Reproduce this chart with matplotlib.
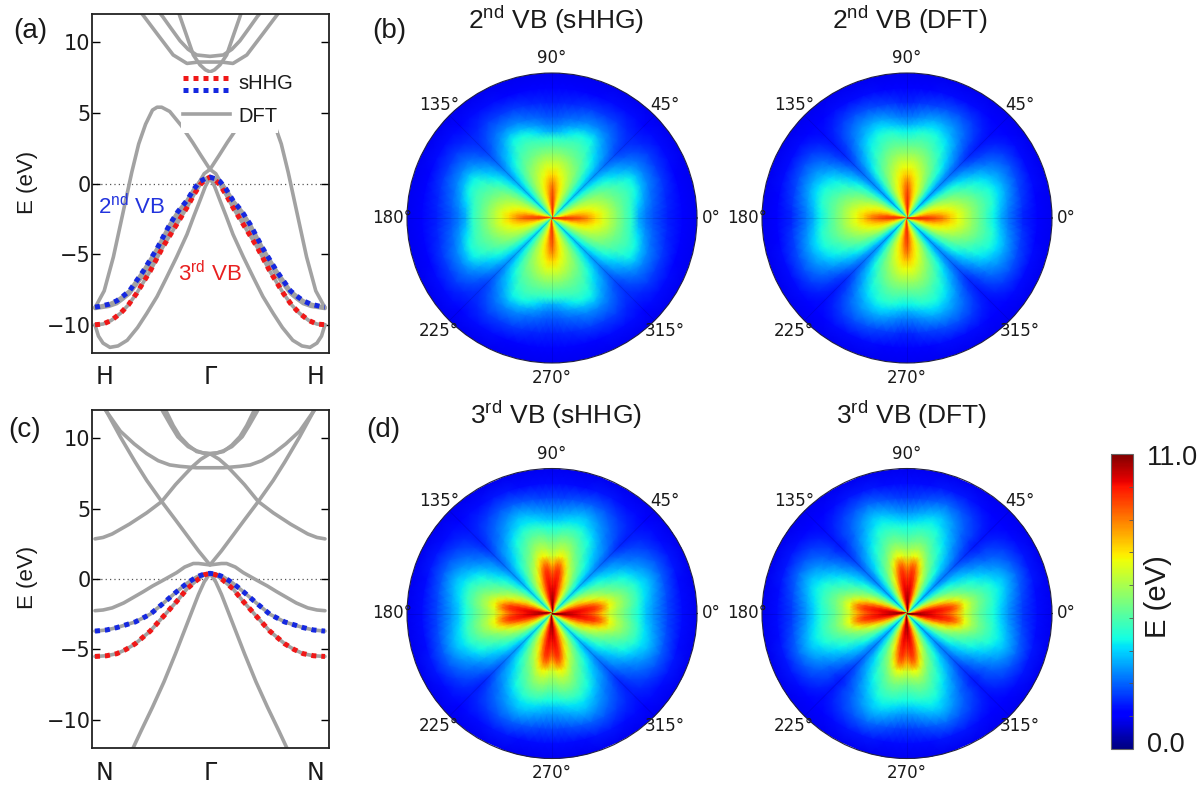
import numpy as np
import matplotlib
matplotlib.use("Agg")
import matplotlib.pyplot as plt
from matplotlib.cm import ScalarMappable
from matplotlib.colors import Normalize
from matplotlib.patches import Rectangle

plt.rcParams["font.family"] = "Liberation Sans"
plt.rcParams["mathtext.fontset"] = "custom"
plt.rcParams["mathtext.rm"] = "Liberation Sans"
plt.rcParams["axes.unicode_minus"] = True

W, H = 1203, 786

# ---- band data, half path from Gamma (k=0) to zone edge (k=1), mirrored later ----
# panel (a) Gamma -> H
a_low_k = [0, .04, .087, .14, .2, .29, .38, .46, .55, .63, .72, .8, .87, .93, .97, 1]
a_low_e = [.4, -.2, -1.2, -2.3, -3.6, -5.2, -6.7, -8.0, -9.2, -10.2, -11.1, -11.5, -11.6, -11.3, -10.8, -10.0]
a_vb3_k = [0, .04, .087, .14, .2, .29, .41, .52, .64, .71, .78, .86, .93, 1]
a_vb3_e = [.45, .3, -.1, -.8, -1.7, -2.9, -4.5, -6.2, -7.8, -8.6, -9.2, -9.7, -9.95, -10.0]
a_vb2_k = [0, .04, .087, .14, .2, .28, .35, .46, .58, .7, .76, .81, .88, .96, 1]
a_vb2_e = [.45, .35, .15, -.4, -1.2, -2.0, -2.9, -4.6, -6.2, -7.6, -8.0, -8.3, -8.55, -8.7, -8.75]
a_arc_k = [0, .05, .1, .15, .2, .28, .35, .46, .58, .7, .76, .81, .88, .96, 1]
a_arc_e = [1.0, .7, 0, -.8, -1.5, -2.4, -3.2, -4.9, -6.5, -7.8, -8.2, -8.5, -8.7, -8.8, -8.85]
a_top_k = [0, .08, .15, .25, .35, .42, .46, .5, .56, .62, .68, .76, .84, .92, 1]
a_top_e = [1.0, 2.0, 2.9, 4.1, 5.1, 5.4, 5.4, 5.2, 4.2, 2.8, .8, -2.2, -5.2, -7.6, -8.8]
a_c1_k = [0, .04, .087, .145, .2, .26, .28]
a_c1_e = [7.9, 8.05, 8.4, 9.1, 10.4, 11.8, 12.3]
a_c2_k = [0, .1, .2, .32, .46, .58, .62]
a_c2_e = [8.6, 8.6, 8.5, 9.1, 10.6, 11.9, 12.3]
a_c3_k = [0, .116, .19, .26, .34, .41, .45]
a_c3_e = [9.0, 9.1, 9.5, 10.1, 11.0, 11.8, 12.2]

# panel (c) Gamma -> N
c_low_k = [0, .05, .1, .2, .3, .4, .5, .6, .68]
c_low_e = [.4, -.2, -1.1, -3.2, -5.3, -7.3, -9.1, -10.8, -12.2]
c_vb3_k = [0, .05, .116, .2, .29, .41, .52, .65, .73, .81, .9, 1]
c_vb3_e = [.4, .3, -.1, -.7, -1.6, -2.7, -3.7, -4.6, -5.0, -5.3, -5.45, -5.5]
c_vb2_k = [0, .05, .116, .2, .29, .41, .52, .65, .73, .81, .9, 1]
c_vb2_e = [.4, .35, .15, -.3, -.9, -1.75, -2.5, -3.05, -3.25, -3.45, -3.62, -3.7]
c_arc_k = [0, .05, .1, .145, .22, .29, .41, .5, .58, .75, .85, .93, 1]
c_arc_e = [1.0, 1.05, 1.1, 1.1, .85, .45, -.1, -.5, -.9, -1.7, -2.05, -2.2, -2.25]
c_dirac_k = [0, .1, .2, .3, .42, .55, .65, .78, .9, .94]
c_dirac_e = [1.0, 2.0, 3.1, 4.2, 5.5, 7.0, 8.3, 10.1, 11.9, 12.4]
c_cross_k = [0, .08, .15, .22, .3, .42, .55, .7, .85, .93, 1]
c_cross_e = [8.9, 8.5, 8.0, 7.4, 6.7, 5.5, 4.7, 3.9, 3.2, 2.95, 2.85]
c_flat_k = [0, .12, .26, .35, .45, .55, .66, .78, .9, .93]
c_flat_e = [7.9, 7.9, 8.0, 8.1, 8.4, 8.9, 9.6, 10.5, 11.9, 12.3]
c_u1_k = [0, .06, .116, .19, .26, .32, .38, .41]
c_u1_e = [8.9, 8.95, 9.05, 9.5, 10.1, 10.9, 11.9, 12.4]
c_u2_k = [0, .06, .116, .19, .28, .34, .41, .44]
c_u2_e = [8.9, 8.95, 9.1, 9.4, 10.1, 10.9, 11.9, 12.4]

panel_ticks = [-10, -5, 0, 5, 10]

# ---- polar maps: rows are angles in the first octant, columns are radii ----
map_angles = [0, 3, 6, 10, 15, 20, 27, 34, 40, 45]
map_radii = [0, .05, .1, .15, .2, .25, .3, .35, .4, .45, .5, .55, .6, .65, .7, .8, .9, 1]

vb2_shhg = [
    [9.3, 9.3, 9.2, 9.0, 8.8, 8.2, 7.4, 6.8, 6.2, 5.6, 5.0, 4.4, 3.2, 2.7, 2.3, 1.7, 1.4, 1.1],
    [9.2, 9.1, 9.1, 8.9, 8.6, 8.1, 7.4, 6.8, 6.2, 5.6, 5.0, 4.4, 3.3, 2.7, 2.3, 1.7, 1.4, 1.1],
    [9.0, 8.7, 8.7, 8.5, 8.2, 7.8, 7.3, 6.8, 6.2, 5.6, 5.0, 4.4, 3.4, 2.8, 2.4, 1.8, 1.4, 1.1],
    [8.6, 8.0, 8.0, 7.9, 7.7, 7.4, 7.0, 6.6, 6.1, 5.5, 5.0, 4.5, 3.7, 3.0, 2.5, 1.8, 1.4, 1.1],
    [8.0, 7.2, 7.3, 7.3, 7.2, 7.0, 6.7, 6.3, 5.9, 5.4, 5.0, 4.6, 4.0, 3.2, 2.6, 1.9, 1.4, 1.1],
    [7.2, 6.6, 6.7, 6.8, 6.7, 6.5, 6.3, 6.0, 5.6, 5.2, 4.9, 4.6, 4.2, 3.4, 2.8, 2.0, 1.4, 1.1],
    [6.6, 5.9, 6.0, 6.0, 6.0, 5.9, 5.7, 5.5, 5.2, 4.9, 4.6, 4.3, 4.0, 3.4, 2.8, 2.0, 1.5, 1.1],
    [6.0, 5.2, 5.2, 5.2, 5.1, 5.0, 4.9, 4.7, 4.5, 4.2, 3.9, 3.5, 3.2, 2.9, 2.6, 2.0, 1.5, 1.1],
    [5.5, 4.5, 4.4, 4.3, 4.2, 4.1, 4.0, 3.9, 3.7, 3.5, 3.2, 3.0, 2.7, 2.4, 2.2, 1.8, 1.5, 1.1],
    [5.0, 3.9, 3.6, 3.5, 3.4, 3.3, 3.2, 3.1, 2.9, 2.8, 2.6, 2.4, 2.2, 2.0, 1.9, 1.7, 1.4, 1.1],
]
vb2_dft = [
    [9.3, 9.4, 9.4, 9.2, 8.9, 8.4, 7.6, 7.0, 6.4, 5.8, 5.2, 4.6, 4.0, 3.2, 2.7, 1.8, 1.4, 1.1],
    [9.3, 9.2, 9.2, 9.1, 8.8, 8.3, 7.6, 7.0, 6.4, 5.8, 5.2, 4.6, 4.0, 3.3, 2.7, 1.8, 1.4, 1.1],
    [9.1, 8.8, 8.9, 8.7, 8.4, 7.9, 7.4, 6.9, 6.4, 5.8, 5.2, 4.7, 4.1, 3.4, 2.8, 1.9, 1.4, 1.1],
    [8.7, 8.1, 8.2, 8.1, 7.8, 7.5, 7.1, 6.7, 6.2, 5.7, 5.2, 4.8, 4.3, 3.6, 3.0, 2.0, 1.4, 1.1],
    [8.0, 7.4, 7.5, 7.5, 7.3, 7.0, 6.7, 6.3, 5.9, 5.5, 5.1, 4.7, 4.3, 3.8, 3.2, 2.1, 1.5, 1.1],
    [7.2, 6.6, 6.8, 6.8, 6.8, 6.5, 6.2, 5.9, 5.5, 5.2, 4.8, 4.5, 4.2, 3.7, 3.2, 2.2, 1.5, 1.1],
    [6.6, 5.8, 5.9, 5.9, 5.9, 5.7, 5.4, 5.2, 4.9, 4.6, 4.3, 4.0, 3.7, 3.3, 3.0, 2.2, 1.5, 1.1],
    [6.0, 5.0, 4.9, 4.8, 4.8, 4.6, 4.5, 4.3, 4.1, 3.8, 3.5, 3.2, 3.0, 2.7, 2.5, 2.0, 1.5, 1.1],
    [5.4, 4.3, 4.1, 3.9, 3.8, 3.7, 3.5, 3.4, 3.2, 3.0, 2.8, 2.5, 2.3, 2.1, 2.0, 1.7, 1.4, 1.1],
    [4.8, 3.6, 3.3, 3.1, 3.0, 2.9, 2.8, 2.7, 2.6, 2.4, 2.2, 2.0, 1.8, 1.7, 1.6, 1.5, 1.3, 1.1],
]
vb3_shhg = [
    [11.0, 10.8, 10.4, 10.0, 9.7, 9.3, 8.6, 7.6, 6.5, 5.9, 5.4, 4.8, 4.2, 3.5, 3.0, 2.1, 1.5, 1.1],
    [11.0, 10.7, 10.4, 10.1, 9.8, 9.5, 9.0, 8.0, 6.7, 6.0, 5.4, 4.8, 4.2, 3.5, 3.0, 2.1, 1.5, 1.1],
    [10.8, 10.2, 10.2, 10.0, 9.9, 9.7, 9.4, 8.5, 7.0, 6.2, 5.6, 5.0, 4.3, 3.6, 3.1, 2.1, 1.5, 1.1],
    [10.2, 9.4, 9.7, 9.7, 9.6, 9.5, 9.2, 8.3, 7.1, 6.3, 5.7, 5.1, 4.5, 3.8, 3.2, 2.2, 1.5, 1.1],
    [9.5, 8.6, 9.0, 8.9, 8.8, 8.5, 8.0, 7.3, 6.6, 6.0, 5.5, 5.0, 4.5, 3.9, 3.4, 2.3, 1.5, 1.1],
    [8.6, 7.8, 8.1, 8.0, 7.8, 7.3, 6.8, 6.3, 5.8, 5.4, 5.1, 4.7, 4.3, 3.8, 3.4, 2.4, 1.6, 1.1],
    [7.6, 6.6, 6.9, 6.9, 6.6, 6.2, 5.8, 5.4, 5.0, 4.7, 4.4, 4.1, 3.7, 3.3, 3.0, 2.3, 1.6, 1.1],
    [6.6, 5.6, 5.7, 5.6, 5.4, 5.1, 4.8, 4.5, 4.2, 3.9, 3.6, 3.3, 3.0, 2.7, 2.5, 2.0, 1.5, 1.1],
    [6.0, 4.9, 4.7, 4.6, 4.4, 4.2, 3.9, 3.7, 3.5, 3.2, 3.0, 2.8, 2.5, 2.3, 2.1, 1.8, 1.5, 1.1],
    [5.4, 4.2, 3.9, 3.7, 3.5, 3.3, 3.1, 2.9, 2.8, 2.6, 2.4, 2.2, 2.0, 1.8, 1.7, 1.6, 1.4, 1.1],
]
vb3_dft = [
    [11.0, 10.8, 10.4, 10.0, 9.7, 9.3, 8.7, 7.8, 6.6, 5.8, 5.1, 4.6, 4.2, 3.6, 3.0, 2.0, 1.5, 1.1],
    [11.0, 10.7, 10.4, 10.1, 9.8, 9.5, 9.0, 8.1, 6.7, 5.9, 5.2, 4.7, 4.2, 3.6, 3.0, 2.0, 1.5, 1.1],
    [10.8, 10.2, 10.2, 10.0, 9.9, 9.7, 9.4, 8.5, 7.0, 6.0, 5.3, 4.8, 4.3, 3.7, 3.1, 2.1, 1.5, 1.1],
    [10.2, 9.4, 9.7, 9.7, 9.6, 9.4, 9.1, 8.3, 7.0, 6.1, 5.4, 4.9, 4.4, 3.9, 3.3, 2.2, 1.5, 1.1],
    [9.5, 8.5, 8.9, 8.8, 8.6, 8.3, 7.8, 7.1, 6.3, 5.7, 5.2, 4.8, 4.4, 4.0, 3.5, 2.4, 1.6, 1.1],
    [8.5, 7.6, 7.8, 7.7, 7.4, 7.0, 6.5, 6.0, 5.5, 5.1, 4.8, 4.5, 4.2, 3.8, 3.5, 2.5, 1.6, 1.1],
    [7.4, 6.3, 6.4, 6.3, 6.0, 5.7, 5.3, 5.0, 4.7, 4.4, 4.1, 3.8, 3.5, 3.2, 3.0, 2.3, 1.6, 1.1],
    [6.4, 5.2, 5.0, 4.9, 4.7, 4.5, 4.3, 4.1, 3.8, 3.6, 3.3, 3.0, 2.8, 2.5, 2.4, 2.0, 1.5, 1.1],
    [5.6, 4.4, 4.1, 3.9, 3.7, 3.6, 3.4, 3.2, 3.1, 2.9, 2.7, 2.4, 2.2, 2.0, 2.0, 1.7, 1.4, 1.1],
    [5.0, 3.7, 3.3, 3.1, 3.0, 2.9, 2.7, 2.6, 2.5, 2.3, 2.1, 1.9, 1.8, 1.6, 1.6, 1.5, 1.3, 1.1],
]

theta_ticks = [0, 45, 90, 135, 180, 225, 270, 315]
e_max = 11.0

GRAY = "#a2a2a2"
RED = "#f01818"
BLUE = "#1528e0"
TEXT = "#1a1a1a"
DOTS = (0, (1, 1.0))


def mirror(half, sign=1):
    half = np.array(half)
    return np.r_[sign * half[::-1][:-1], half]


def px_box(x0, y0, x1, y1):
    return [x0 / W, 1 - y1 / H, (x1 - x0) / W, (y1 - y0) / H]


def label(x, y, s, size, **kw):
    kw.setdefault("color", TEXT)
    fig.text(x / W, 1 - y / H, s, fontsize=size, ha="center", va="center", **kw)


def draw_band(ax, k, e, **kw):
    ax.plot(mirror(k, -1), mirror(e), **kw)


def setup_panel(ax, end_label):
    ax.axhline(0, color="#555555", lw=0.9, ls=(0, (1, 2.5)), zorder=1)
    ax.set_xlim(-1.026, 1.035)
    ax.set_ylim(-12, 12)
    ax.set_yticks(panel_ticks)
    ax.set_yticklabels([f"{t}".replace("-", "\u2212") for t in panel_ticks], family="DejaVu Sans", fontsize=15, color=TEXT)
    ax.tick_params(axis="y", direction="in", left=True, right=True, length=6, width=1, pad=1)
    ax.set_xticks([-0.92, 0, 0.92])
    ax.set_xticklabels([end_label, "\u0393", end_label], family="DejaVu Sans", fontsize=17, color=TEXT)
    ax.tick_params(axis="x", length=0, pad=9)
    for s in ax.spines.values():
        s.set_linewidth(1.3)
        s.set_color("#222222")


gray_kw = dict(color=GRAY, lw=2.6, solid_capstyle="round", zorder=2)
dot_kw = dict(lw=3.6, ls=DOTS, zorder=3)

fig = plt.figure(figsize=(W / 100, H / 100), dpi=100, facecolor="white")

# panel (a)
ax_a = fig.add_axes(px_box(92, 14, 329, 353))
setup_panel(ax_a, "H")
for k, e in [(a_low_k, a_low_e), (a_vb3_k, a_vb3_e), (a_vb2_k, a_vb2_e), (a_arc_k, a_arc_e), (a_top_k, a_top_e),
             (a_c1_k, a_c1_e), (a_c2_k, a_c2_e), (a_c3_k, a_c3_e)]:
    draw_band(ax_a, k, e, **gray_kw)
draw_band(ax_a, a_vb3_k, a_vb3_e, color=RED, **dot_kw)
draw_band(ax_a, a_vb2_k, a_vb2_e, color=BLUE, **dot_kw)
ax_a.text(-0.97, -1.6, "2$^{\\mathrm{nd}}$ VB", color="#2233dd", fontsize=16, va="center", zorder=6)
ax_a.text(-0.28, -6.4, "3$^{\\mathrm{rd}}$ VB", color="#e82020", fontsize=16, va="center", zorder=6)

# hand drawn legend over the bands, white box hides them like in the original
ax_a.add_patch(Rectangle((.375, .649), .41, .177, transform=ax_a.transAxes, fc="white", ec="none", zorder=4))
ax_a.plot([.384, .582], [.811, .811], transform=ax_a.transAxes, color=RED, lw=3.6, ls=DOTS, zorder=5)
ax_a.plot([.384, .582], [.776, .776], transform=ax_a.transAxes, color=BLUE, lw=3.6, ls=DOTS, zorder=5)
ax_a.plot([.384, .582], [.705, .705], transform=ax_a.transAxes, color=GRAY, lw=2.6, zorder=5)
ax_a.text(.616, .796, "sHHG", transform=ax_a.transAxes, fontsize=14.5, va="center", color=TEXT, zorder=5)
ax_a.text(.616, .697, "DFT", transform=ax_a.transAxes, fontsize=14.5, va="center", color=TEXT, zorder=5)

# panel (c)
ax_c = fig.add_axes(px_box(92, 410, 329, 748))
setup_panel(ax_c, "N")
for k, e in [(c_low_k, c_low_e), (c_vb3_k, c_vb3_e), (c_vb2_k, c_vb2_e), (c_arc_k, c_arc_e),
             (c_dirac_k, c_dirac_e), (c_cross_k, c_cross_e), (c_flat_k, c_flat_e),
             (c_u1_k, c_u1_e), (c_u2_k, c_u2_e)]:
    draw_band(ax_c, k, e, **gray_kw)
draw_band(ax_c, c_vb3_k, c_vb3_e, color=RED, **dot_kw)
draw_band(ax_c, c_vb2_k, c_vb2_e, color=BLUE, **dot_kw)

# polar maps, the table holds one octant and is unfolded around the circle
oct_angles = np.array(map_angles, dtype=float)
quad_angles = np.r_[oct_angles, 90 - oct_angles[::-1][1:]]
full_angles = np.r_[quad_angles, quad_angles[1:] + 90, quad_angles[1:] + 180, quad_angles[1:] + 270]
radii = np.array(map_radii)
T, R = np.meshgrid(np.deg2rad(full_angles), radii, indexing="ij")

maps = [
    (vb2_shhg, 552, 218),
    (vb2_dft, 907, 218),
    (vb3_shhg, 552, 613.5),
    (vb3_dft, 907, 613.5),
]
for table, cx, cy in maps:
    octant = np.array(table)
    quad = np.r_[octant, octant[::-1][1:]]
    full = np.r_[quad, quad[1:], quad[1:], quad[1:]]
    ax = fig.add_axes(px_box(cx - 145, cy - 145, cx + 145, cy + 145), projection="polar")
    ax.pcolormesh(T, R, full, shading="gouraud", cmap="jet", vmin=0, vmax=e_max)
    ax.set_ylim(0, 1)
    ax.set_yticks([])
    ax.set_xticks(np.deg2rad(theta_ticks))
    ax.set_xticklabels([f"{t}\u00b0" for t in theta_ticks], family="DejaVu Sans", fontsize=12, color=TEXT)
    ax.tick_params(axis="x", length=0, pad=3.5)
    ax.grid(axis="x", color="#000000", lw=0.6, alpha=0.12)
    ax.spines["polar"].set_linewidth(0.8)
    ax.spines["polar"].set_color("#222244")

# colorbar
cax = fig.add_axes(px_box(1111, 454, 1133, 749))
cbar = fig.colorbar(ScalarMappable(norm=Normalize(0, e_max), cmap="jet"), cax=cax)
cbar.set_ticks([])
cbar.ax.set_yticks([e_max * i / 9 for i in range(1, 9)])
cbar.ax.set_yticklabels([])
cbar.ax.tick_params(axis="y", direction="in", length=3, width=0.6, color="#555555", right=True)
cbar.outline.set_linewidth(0.8)
cbar.outline.set_edgecolor("#666666")
label(1172, 458, "11.0", 19.5)
label(1166, 745, "0.0", 19.5)
label(1158, 597, "E (eV)", 21, rotation=90)

# texts
label(30, 31, "(a)", 20)
label(25, 430, "(c)", 20)
label(389, 31, "(b)", 20)
label(383, 430, "(d)", 20)
label(28, 182, "E (eV)", 16, rotation=90)
label(28, 577, "E (eV)", 16, rotation=90)
label(556, 20, "2$^{\\mathrm{nd}}$ VB (sHHG)", 19)
label(910, 20, "2$^{\\mathrm{nd}}$ VB (DFT)", 19)
label(556, 415, "3$^{\\mathrm{rd}}$ VB (sHHG)", 19)
label(912, 415, "3$^{\\mathrm{rd}}$ VB (DFT)", 19)

fig.savefig("out.png", dpi=100)
